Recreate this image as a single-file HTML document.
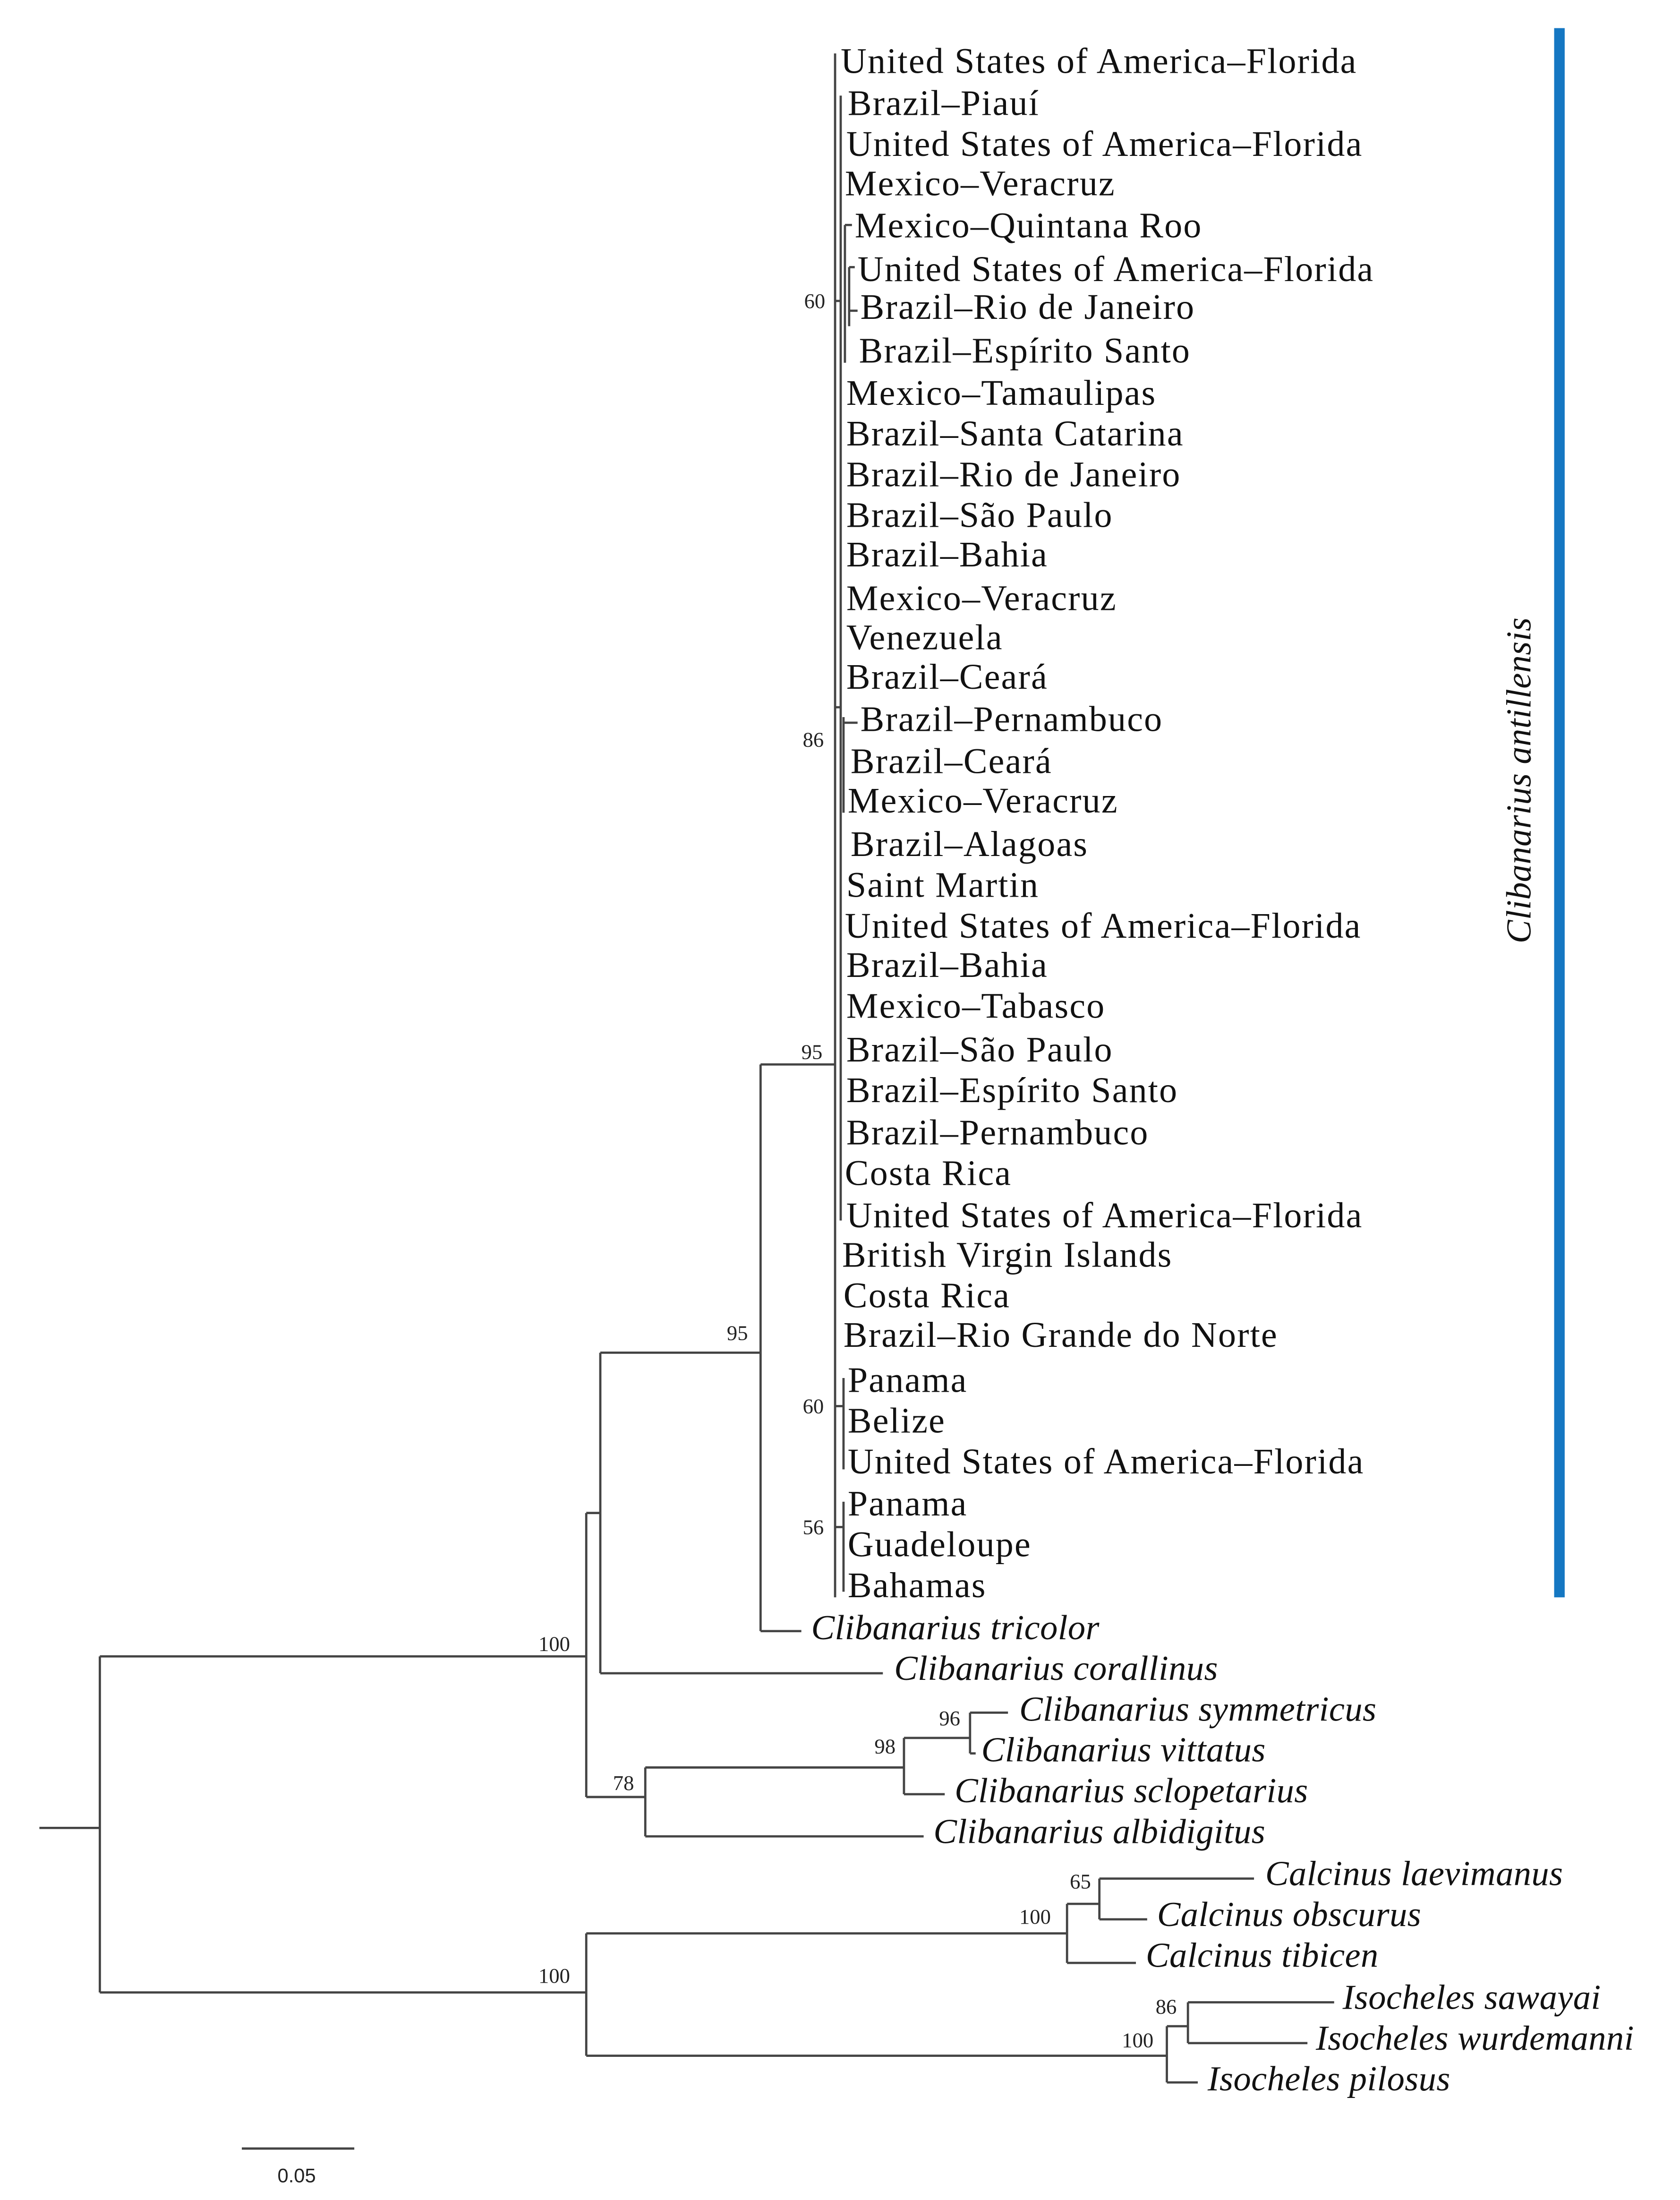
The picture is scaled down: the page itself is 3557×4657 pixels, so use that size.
<!DOCTYPE html>
<html><head><meta charset="utf-8"><style>
html,body{margin:0;padding:0;background:#fff}
svg{display:block}
.t{font-family:"Liberation Serif",serif;font-size:25.5px;letter-spacing:0.75px;fill:#111;dominant-baseline:middle}
.i{font-style:italic;font-size:25px;letter-spacing:0.15px}
.b{font-family:"Liberation Serif",serif;font-size:15px;fill:#222}
</style></head><body>
<svg width="3557" height="4657" viewBox="0 0 1195 1564.6" xmlns="http://www.w3.org/2000/svg">
<rect x="1105.5" y="20" width="7.5" height="1116" fill="#1577c2"/>
<text class="t i" transform="translate(1083,555) rotate(-90)" text-anchor="middle" font-size="25">Clibanarius antillensis</text>
<g stroke="#444" stroke-width="1.6" fill="none">
<path d="M594 38V1136M598 68V868M601 160V258M604 190V232M601 160H606M604 190H608M604 221H610M600 510V578M600 514H610M600 980V1045M600 1068V1132M594 503H598M594 214H598M594 1000H600M594 1086H600"/>
<path d="M541 757H594M541 757V1160M541 1160H570"/>
<path d="M427 962H541M427 962V1190M427 1190H628"/>
<path d="M417 1076H427M417 1076V1278M417 1278H459M459 1257V1306M459 1257H643M459 1306H657M643 1236V1276M643 1236H690M643 1276H672M690 1218V1247M690 1218H717M690 1247H694"/>
<path d="M28 1300H71M71 1178V1417M71 1178H417M71 1417H417M417 1375V1462M417 1375H759M417 1462H830"/>
<path d="M759 1354V1396M759 1354H782M759 1396H808M782 1336V1365M782 1336H892M782 1365H816"/>
<path d="M830 1441V1481M830 1441H845M830 1481H852M845 1424V1453M845 1424H949M845 1453H930"/>
<path d="M172 1528H252"/>
</g>
<g class="t">
<text x="598" y="46">United States of America–Florida</text>
<text x="603" y="76">Brazil–Piauí</text>
<text x="602" y="105">United States of America–Florida</text>
<text x="601" y="133">Mexico–Veracruz</text>
<text x="608" y="163">Mexico–Quintana Roo</text>
<text x="610" y="194">United States of America–Florida</text>
<text x="612" y="221">Brazil–Rio de Janeiro</text>
<text x="611" y="252">Brazil–Espírito Santo</text>
<text x="602" y="282">Mexico–Tamaulipas</text>
<text x="602" y="311">Brazil–Santa Catarina</text>
<text x="602" y="340">Brazil–Rio de Janeiro</text>
<text x="602" y="369">Brazil–São Paulo</text>
<text x="602" y="397">Brazil–Bahia</text>
<text x="602" y="428">Mexico–Veracruz</text>
<text x="602" y="456">Venezuela</text>
<text x="602" y="484">Brazil–Ceará</text>
<text x="612" y="514">Brazil–Pernambuco</text>
<text x="605" y="544">Brazil–Ceará</text>
<text x="603" y="572">Mexico–Veracruz</text>
<text x="605" y="603">Brazil–Alagoas</text>
<text x="602" y="632">Saint Martin</text>
<text x="601" y="661">United States of America–Florida</text>
<text x="602" y="689">Brazil–Bahia</text>
<text x="602" y="718">Mexico–Tabasco</text>
<text x="602" y="749">Brazil–São Paulo</text>
<text x="602" y="778">Brazil–Espírito Santo</text>
<text x="602" y="808">Brazil–Pernambuco</text>
<text x="601" y="837">Costa Rica</text>
<text x="602" y="867">United States of America–Florida</text>
<text x="599" y="895">British Virgin Islands</text>
<text x="600" y="924">Costa Rica</text>
<text x="600" y="952">Brazil–Rio Grande do Norte</text>
<text x="603" y="984">Panama</text>
<text x="603" y="1013">Belize</text>
<text x="603" y="1042">United States of America–Florida</text>
<text x="603" y="1072">Panama</text>
<text x="603" y="1101">Guadeloupe</text>
<text x="603" y="1130">Bahamas</text>
</g>
<g class="t i">
<text x="577" y="1160">Clibanarius tricolor</text>
<text x="636" y="1189">Clibanarius corallinus</text>
<text x="725" y="1218">Clibanarius symmetricus</text>
<text x="698" y="1247">Clibanarius vittatus</text>
<text x="679" y="1276">Clibanarius sclopetarius</text>
<text x="664" y="1305">Clibanarius albidigitus</text>
<text x="900" y="1335">Calcinus laevimanus</text>
<text x="823" y="1364">Calcinus obscurus</text>
<text x="815" y="1393">Calcinus tibicen</text>
<text x="955" y="1423">Isocheles sawayai</text>
<text x="936" y="1452">Isocheles wurdemanni</text>
<text x="859" y="1481">Isocheles pilosus</text>
</g>
<g class="b">
<text x="572" y="219">60</text>
<text x="571" y="531">86</text>
<text x="570" y="753">95</text>
<text x="517" y="953">95</text>
<text x="571" y="1005">60</text>
<text x="571" y="1091">56</text>
<text x="383" y="1174">100</text>
<text x="436" y="1273">78</text>
<text x="622" y="1247">98</text>
<text x="668" y="1227">96</text>
<text x="725" y="1368">100</text>
<text x="761" y="1343">65</text>
<text x="383" y="1410">100</text>
<text x="822" y="1432">86</text>
<text x="798" y="1456">100</text>
</g>
<text x="211" y="1552" font-family="Liberation Sans,sans-serif" font-size="14" fill="#222" text-anchor="middle">0.05</text>
</svg>
</body></html>
